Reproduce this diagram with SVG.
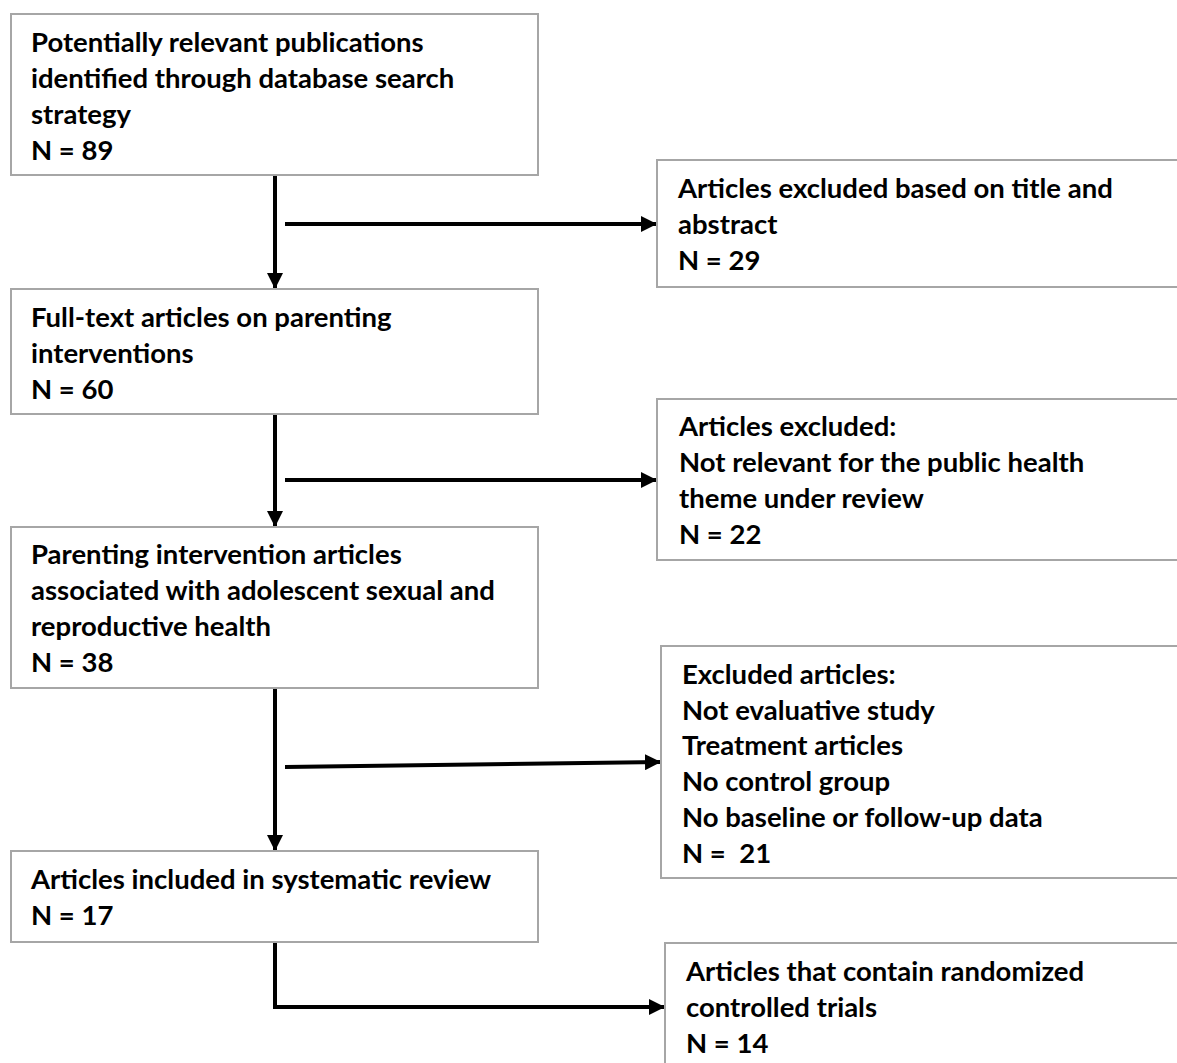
<svg xmlns="http://www.w3.org/2000/svg" width="1177" height="1063" viewBox="0 0 1177 1063">
<defs>
<style>
.box{fill:#fff;stroke:#a6a6a6;stroke-width:2}
.t{font-family:Lato,"Open Sans","Liberation Sans",sans-serif;font-weight:bold;font-size:27.5px;fill:#000}
.c{fill:none;stroke:#000;stroke-width:4}
</style>
<marker id="ah" markerWidth="4" markerHeight="4" refX="4" refY="2" orient="auto" markerUnits="strokeWidth">
<path d="M0,0 L4,2 L0,4 Z" fill="#000"/>
</marker>
</defs>
<rect width="1177" height="1063" fill="#fff"/>
<g id="connectors">
<line class="c" x1="275" y1="175" x2="275" y2="289" marker-end="url(#ah)"/>
<line class="c" x1="285" y1="224" x2="657" y2="224" marker-end="url(#ah)"/>
<line class="c" x1="275" y1="414" x2="275" y2="527" marker-end="url(#ah)"/>
<line class="c" x1="285" y1="480" x2="657" y2="480" marker-end="url(#ah)"/>
<line class="c" x1="275" y1="688" x2="275" y2="851" marker-end="url(#ah)"/>
<line class="c" x1="285" y1="767" x2="661" y2="762" marker-end="url(#ah)"/>
<polyline class="c" points="275,942 275,1007 665,1007" marker-end="url(#ah)"/>
</g>
<g id="n1">
<rect class="box" x="11" y="14" width="527" height="161"/>
<text class="t" x="31" y="52">Potentially relevant publications</text>
<text class="t" x="31" y="88">identified through database search</text>
<text class="t" x="31" y="124">strategy</text>
<text class="t" x="31" y="160">N = 89</text>
</g>
<g id="n2">
<rect class="box" x="657" y="160" width="540" height="127"/>
<text class="t" x="678" y="198">Articles excluded based on title and</text>
<text class="t" x="678" y="234">abstract</text>
<text class="t" x="678" y="270">N = 29</text>
</g>
<g id="n3">
<rect class="box" x="11" y="289" width="527" height="125"/>
<text class="t" x="31" y="327">Full-text articles on parenting</text>
<text class="t" x="31" y="363">interventions</text>
<text class="t" x="31" y="399">N = 60</text>
</g>
<g id="n4">
<rect class="box" x="657" y="399" width="540" height="161"/>
<text class="t" x="679" y="436">Articles excluded:</text>
<text class="t" x="679" y="472">Not relevant for the public health</text>
<text class="t" x="679" y="508">theme under review</text>
<text class="t" x="679" y="544">N = 22</text>
</g>
<g id="n5">
<rect class="box" x="11" y="527" width="527" height="161"/>
<text class="t" x="31" y="564">Parenting intervention articles</text>
<text class="t" x="31" y="600">associated with adolescent sexual and</text>
<text class="t" x="31" y="636">reproductive health</text>
<text class="t" x="31" y="672">N = 38</text>
</g>
<g id="n6">
<rect class="box" x="661" y="646" width="540" height="232"/>
<text class="t" x="682" y="684">Excluded articles:</text>
<text class="t" x="682" y="720">Not evaluative study</text>
<text class="t" x="682" y="755">Treatment articles</text>
<text class="t" x="682" y="791">No control group</text>
<text class="t" x="682" y="827">No baseline or follow-up data</text>
<text class="t" x="682" y="863" xml:space="preserve">N =  21</text>
</g>
<g id="n7">
<rect class="box" x="11" y="851" width="527" height="91"/>
<text class="t" x="31" y="889">Articles included in systematic review</text>
<text class="t" x="31" y="925">N = 17</text>
</g>
<g id="n8">
<rect class="box" x="665" y="943" width="540" height="140"/>
<text class="t" x="686" y="981">Articles that contain randomized</text>
<text class="t" x="686" y="1017">controlled trials</text>
<text class="t" x="686" y="1053">N = 14</text>
</g>
</svg>
